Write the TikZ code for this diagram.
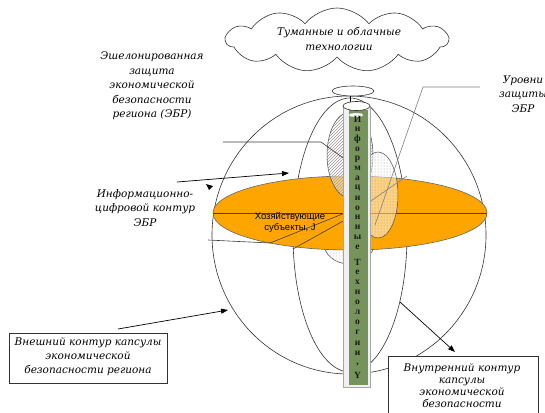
\documentclass[tikz,border=0pt]{standalone}
\usepackage{fontspec}
\setmainfont{DejaVu Serif}
\newfontfamily\labfont{DejaVu Serif}
\newfontfamily\sansfont{Liberation Sans}
\newfontfamily\barfont{Liberation Serif}
\usetikzlibrary{shapes.symbols,shapes.geometric,patterns,arrows.meta}
\definecolor{orng}{RGB}{255,165,0}
\definecolor{barg}{RGB}{119,147,92}
\definecolor{lead}{RGB}{60,60,60}
\begin{document}
\begin{tikzpicture}[x=1pt,y=-1pt,
  lab/.style={font=\labfont\itshape\fontsize{10.5}{14.5}\selectfont, align=center, inner sep=0pt},
  thin line/.style={draw=lead, line width=0.6pt},
  arr/.style={draw=black, line width=0.7pt, -{Triangle[length=7pt,width=5pt]}},
  boxnode/.style={draw=black!80, line width=0.7pt, fill=white},
  barl/.style={font=\barfont\bfseries\fontsize{9.5}{9.5}\selectfont, inner sep=0pt, text=black!90}]
\useasboundingbox (0,0) rectangle (545,412);
\clip (0,0) rectangle (545,412);
% sphere and meridian
\draw[line width=0.6pt, draw=black!80] (349,235) ellipse[x radius=137pt, y radius=139pt];
\draw[line width=0.6pt, draw=black!80] (350,235) ellipse[x radius=57pt, y radius=137pt];
% dotted lower patch
\path[fill=white] (349,241) ellipse[x radius=26pt, y radius=23pt];
\path[pattern=dots, pattern color=gray!70] (349,241) ellipse[x radius=26pt, y radius=23pt];
\draw[line width=0.5pt, draw=black!70] (349,241) ellipse[x radius=26pt, y radius=23pt];
% equator disc
\draw[fill=orng, draw=black!60, line width=0.6pt] (350,213) ellipse[x radius=137pt, y radius=37pt];
\coordinate (eqL) at (213,213);
\coordinate (eqR) at (487,213);
\draw[line width=0.6pt, draw=black!75] (eqL) -- (eqR);
% hatched level
\path[fill=white, fill opacity=0.5] (350,155) ellipse[x radius=23pt, y radius=43pt];
\path[pattern=north east lines, pattern color=gray!80] (350,155) ellipse[x radius=23pt, y radius=43pt];
\draw[line width=0.5pt, draw=black!70] (350,155) ellipse[x radius=23pt, y radius=43pt];
% dotted level
\path[fill=white, fill opacity=0.5] (378,195) ellipse[x radius=20pt, y radius=43pt];
\path[pattern=dots, pattern color=gray!80] (378,195) ellipse[x radius=20pt, y radius=43pt];
\draw[line width=0.5pt, draw=black!70] (378,195) ellipse[x radius=20pt, y radius=43pt];
% leader lines
\coordinate (e1) at (223,142);
\coordinate (e2) at (321,142);
\coordinate (e3) at (346,160);
\draw[thin line] (e1) -- (e2) -- (e3);
\coordinate (j1) at (208,240);
\coordinate (j2) at (270,243);
\coordinate (j3) at (345,213);
\draw[thin line] (j1) -- (j2) -- (j3);
\coordinate (k1) at (293,249);
\coordinate (k2) at (345,220);
\draw[thin line] (k1) -- (k2);
\coordinate (u1) at (480,87);
\coordinate (u2) at (423,87);
\coordinate (u3) at (375,225);
\draw[thin line, draw=gray] (u1) -- (u2) -- (u3);
\coordinate (s1) at (365,205);
\coordinate (s2) at (407,176);
\draw[thin line, draw=gray] (s1) -- (s2);
% arrows
\coordinate (a1) at (177,182);
\coordinate (a2) at (289,173);
\draw[arr] (a1) -- (a2);
\fill[black] (206,184) -- (213,186) -- (209,190) -- cycle;
% cloud
\node[cloud, draw=black!80, fill=white, line width=0.6pt, cloud puffs=11, cloud puff arc=105, aspect=3.3, minimum width=222pt, minimum height=64pt, inner sep=0pt] (cloud) at (337,40) {};
\node[lab] (cloudtxt) at (339,39) {Туманные и облачные\\технологии};
% top ellipses
\node[ellipse, draw=black!80, fill=white, line width=0.6pt, minimum width=42pt, minimum height=10pt, inner sep=0pt] (top1) at (353,91) {};
\coordinate (top1b) at (350,102);
\draw[line width=0.6pt] (350,96) -- (top1b);
% bar
\node[draw=gray!70, fill=gray!12, line width=0.5pt, minimum width=27pt, minimum height=281pt, inner sep=0pt] (barout) at (356.5,246.5) {};
\node[fill=barg, minimum width=19pt, minimum height=275pt, inner sep=0pt] (bar) at (358,247.5) {};
\node[ellipse, draw=black!80, fill=white, line width=0.6pt, minimum width=27pt, minimum height=9pt, inner sep=0pt] (cyltop) at (356.5,106) {};
\node[ellipse, draw=gray!50, fill=white, line width=0.4pt, minimum width=14pt, minimum height=4pt, inner sep=0pt] (cylin) at (356,115) {};
\foreach \l [count=\i] in {И,н,ф,о,р,м,а,ц,и,о,н,н,ы,е}
  \node[barl] at (357.5,110+9.8*\i) {\l};
\foreach \l [count=\i] in {Т,е,х,н,о,л,о,г,и,и}
  \node[barl] at (357.5,252+10.1*\i) {\l};
\node[barl] (barcomma) at (357.5,364.5) {,};
\node[barl] (bary) at (357.5,375) {Y};
% subjects text
\node[font=\sansfont\fontsize{9.5}{11.5}\selectfont, align=center, inner sep=0pt] (subj) at (290,222.5) {Хозяйствующие\\субъекты, J};
% labels
\node[lab] (ech) at (152,86) {Эшелонированная\\защита\\экономической\\безопасности\\региона (ЭБР)};
\node[lab] (icont) at (145,208) {Информационно-\\цифровой контур\\ЭБР};
\node[lab] (urov) at (523,94) {Уровни\\защиты\\ЭБР};
% boxes
\node[boxnode, minimum width=158pt, minimum height=50pt] (outerbox) at (88,358) {};
\node[lab, font=\labfont\itshape\fontsize{10.5}{14}\selectfont] (outertxt) at (88,357) {Внешний контур капсулы\\экономической\\безопасности региона};
\node[boxnode, minimum width=150pt, minimum height=80pt] (innerbox) at (463,396) {};
\node[lab, font=\labfont\itshape\fontsize{10.5}{12}\selectfont] (innertxt) at (462,386) {Внутренний контур\\капсулы\\экономической\\безопасности};
\coordinate (b1) at (118,329);
\coordinate (b2) at (228,310);
\draw[arr] (b1) -- (b2);
\coordinate (c1) at (400,302);
\coordinate (c2) at (455,352);
\draw[arr] (c1) -- (c2);
\end{tikzpicture}
\end{document}
